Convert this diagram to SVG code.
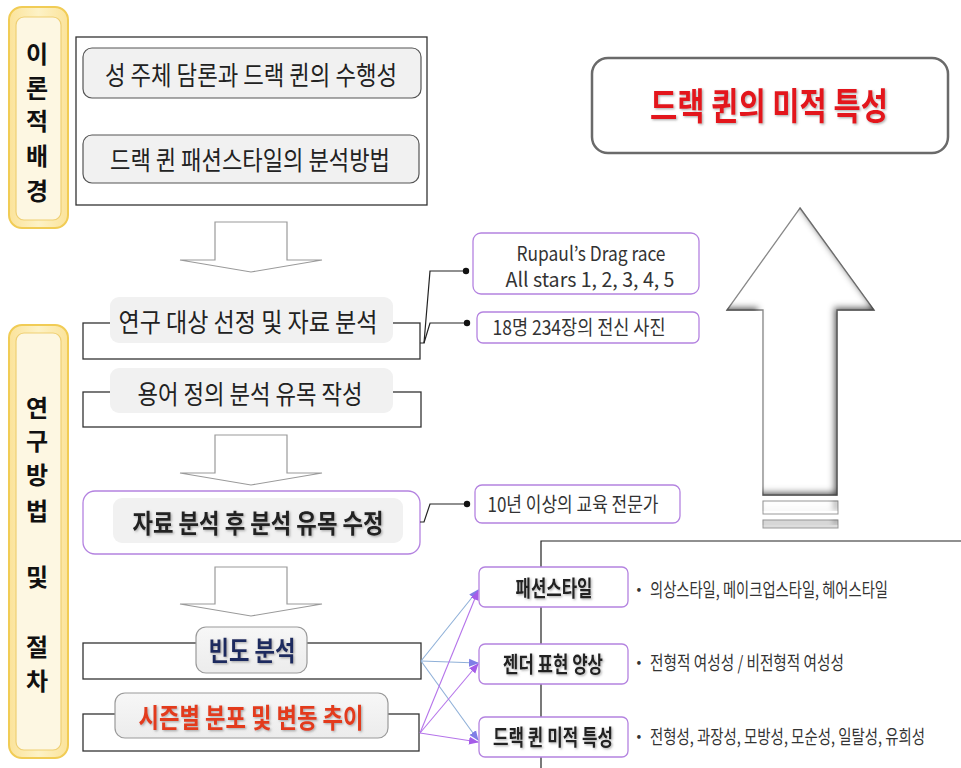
<svg xmlns="http://www.w3.org/2000/svg" width="961" height="768" viewBox="0 0 961 768">
<defs>
<style>
text{font-family:"Noto Sans CJK KR","Noto Sans",sans-serif;text-anchor:middle;dominant-baseline:central;fill:#222}
.lbl{font-size:26px}
.b{font-weight:bold}
.sm{font-size:20px;fill:#333}
.bul{font-size:19px;fill:#333;text-anchor:start}
.dot{font-size:14px;fill:#333}
.vert{font-size:24px;font-weight:bold;fill:#111}
.frame{fill:none;stroke:#333;stroke-width:1.3}
.bracket{fill:#fff;stroke:#333;stroke-width:1.3}
.gray{fill:#f1f1f1}
.grayb{fill:#f1f1f1;stroke:#555;stroke-width:1.2}
.grays{fill:url(#gg);stroke:#9a9a9a;stroke-width:1.2}
.pbox{fill:#fff;stroke:#b483e0;stroke-width:1.3}
.darr{fill:#fff;stroke:#9a9a9a;stroke-width:1.2}
.ylo{fill:url(#yg);stroke:#f1cc55;stroke-width:2}
.yli{fill:#fdf7e2;stroke:#efcf73;stroke-width:1.2}
.conn{fill:none;stroke:#222;stroke-width:1.2}
.blue{fill:none;stroke:#8fb0d8;stroke-width:1.1;marker-end:url(#mb)}
.purp{fill:none;stroke:#b574ea;stroke-width:1.1;marker-end:url(#mp)}
</style>
<linearGradient id="yg" x1="0" y1="0" x2="1" y2="0">
<stop offset="0" stop-color="#fbe39a"/><stop offset="0.5" stop-color="#fdf2c6"/><stop offset="1" stop-color="#fbe39a"/>
</linearGradient>
<linearGradient id="gg" x1="0" y1="0" x2="0" y2="1">
<stop offset="0" stop-color="#f7f7f7"/><stop offset="1" stop-color="#ececec"/>
</linearGradient>
<filter id="ts" x="-10%" y="-20%" width="120%" height="150%">
<feDropShadow dx="1.2" dy="1.2" stdDeviation="0.8" flood-color="#777" flood-opacity="0.6"/>
</filter>
<filter id="inset" x="-5%" y="-5%" width="110%" height="110%">
<feFlood flood-color="#444"/>
<feComposite in2="SourceAlpha" operator="out"/>
<feGaussianBlur stdDeviation="3"/>
<feOffset dx="-4" dy="-4"/>
<feComposite in2="SourceAlpha" operator="in" result="sh"/>
<feMerge><feMergeNode in="SourceGraphic"/><feMergeNode in="sh"/></feMerge>
</filter>
<marker id="mb" markerWidth="10" markerHeight="10" refX="9" refY="5" orient="auto" markerUnits="userSpaceOnUse">
<path d="M0,1 L10,5 L0,9 Z" fill="#7f7ee6"/>
</marker>
<marker id="mp" markerWidth="10" markerHeight="10" refX="9" refY="5" orient="auto" markerUnits="userSpaceOnUse">
<path d="M0,1 L10,5 L0,9 Z" fill="#a55ce8"/>
</marker>
</defs>
<rect width="961" height="768" fill="#fff"/>

<g id="theory-label">
<rect class="ylo" x="9" y="7" width="59" height="221" rx="13"/>
<rect class="yli" x="16" y="17" width="45" height="203" rx="8"/>
<text class="vert" x="37" y="52">이</text>
<text class="vert" x="37" y="86">론</text>
<text class="vert" x="37" y="119">적</text>
<text class="vert" x="37" y="154">배</text>
<text class="vert" x="37" y="189">경</text>
</g>

<g id="method-label">
<rect class="ylo" x="9" y="325" width="59" height="433" rx="13"/>
<rect class="yli" x="16" y="333" width="45" height="417" rx="8"/>
<text class="vert" x="37" y="406">연</text>
<text class="vert" x="37" y="439">구</text>
<text class="vert" x="37" y="473">방</text>
<text class="vert" x="37" y="509">법</text>
<text class="vert" x="37" y="575">및</text>
<text class="vert" x="37" y="645">절</text>
<text class="vert" x="37" y="679">차</text>
</g>

<g id="theory-box">
<rect class="frame" x="76" y="37" width="351" height="168"/>
<rect class="grayb" x="83" y="48" width="338" height="50" rx="9"/>
<text class="lbl" x="251" y="73" textLength="292" lengthAdjust="spacingAndGlyphs">성 주체 담론과 드랙 퀸의 수행성</text>
<rect class="grayb" x="83" y="135" width="336" height="48" rx="9"/>
<text class="lbl" x="250" y="158" textLength="280" lengthAdjust="spacingAndGlyphs">드랙 퀸 패션스타일의 분석방법</text>
</g>

<g id="arrow-down-1"><path class="darr" d="M215 222 H287 V260 H322 L251 272 L180 260 H215 Z"/></g>
<g id="arrow-down-2"><path class="darr" d="M215 435 H287 V473 H322 L251 485 L180 473 H215 Z"/></g>
<g id="arrow-down-3"><path class="darr" d="M215 567 H287 V604 H322 L251 616 L180 604 H215 Z"/></g>

<g id="step-subject">
<rect class="bracket" x="83" y="323" width="337" height="36"/>
<rect class="gray" x="110" y="297" width="283" height="46" rx="9"/>
<text class="lbl" x="248" y="320" textLength="259" lengthAdjust="spacingAndGlyphs">연구 대상 선정 및 자료 분석</text>
</g>

<g id="step-terms">
<rect class="bracket" x="83" y="392" width="338" height="35"/>
<rect class="gray" x="110" y="368" width="283" height="45" rx="9"/>
<text class="lbl" x="250" y="392" textLength="225" lengthAdjust="spacingAndGlyphs">용어 정의 분석 유목 작성</text>
</g>

<g id="step-revise">
<rect class="pbox" x="83" y="491" width="337" height="63" rx="12"/>
<rect class="gray" x="113" y="498" width="290" height="45" rx="9"/>
<text class="lbl b" x="258" y="521" textLength="251" lengthAdjust="spacingAndGlyphs" filter="url(#ts)">자료 분석 후 분석 유목 수정</text>
</g>

<g id="step-frequency">
<rect class="bracket" x="83" y="643" width="338" height="36"/>
<rect class="grays" x="196" y="627" width="111" height="46" rx="10"/>
<text class="b" x="252" y="649" font-size="27" textLength="87" lengthAdjust="spacingAndGlyphs" style="fill:#1e2a5e" filter="url(#ts)">빈도 분석</text>
</g>

<g id="step-season">
<rect class="bracket" x="83" y="714" width="336" height="37"/>
<rect class="grays" x="115" y="693" width="273" height="45" rx="10"/>
<text class="b" x="251" y="716" font-size="27" textLength="225" lengthAdjust="spacingAndGlyphs" style="fill:#e33b1a" filter="url(#ts)">시즌별 분포 및 변동 추이</text>
</g>

<g id="note-rupaul">
<rect class="pbox" x="473" y="233" width="226" height="61" rx="8"/>
<text class="sm" x="591" y="252" textLength="149" lengthAdjust="spacingAndGlyphs">Rupaul’s Drag race</text>
<text class="sm" x="590" y="278" textLength="169" lengthAdjust="spacingAndGlyphs">All stars 1, 2, 3, 4, 5</text>
</g>

<g id="note-photos">
<rect class="pbox" x="477" y="312" width="222" height="31" rx="6"/>
<text class="sm" x="579" y="326" textLength="173" lengthAdjust="spacingAndGlyphs">18명 234장의 전신 사진</text>
</g>

<g id="note-experts">
<rect class="pbox" x="475" y="485" width="205" height="38" rx="7"/>
<text class="sm" x="573" y="503" textLength="171" lengthAdjust="spacingAndGlyphs">10년 이상의 교육 전문가</text>
</g>

<g id="result-axis">
<path class="conn" d="M541 768 V541 H961"/>
</g>

<g id="cat-fashion">
<rect class="pbox" x="479" y="567" width="149" height="40" rx="6"/>
<text class="b" x="554" y="586" font-size="22" textLength="77" lengthAdjust="spacingAndGlyphs" filter="url(#ts)">패션스타일</text>
<text class="dot" x="639" y="588">•</text>
<text class="bul" x="650" y="588" textLength="238" lengthAdjust="spacingAndGlyphs">의상스타일, 메이크업스타일, 헤어스타일</text>
</g>

<g id="cat-gender">
<rect class="pbox" x="479" y="644" width="149" height="40" rx="6"/>
<text class="b" x="553" y="662" font-size="22" textLength="100" lengthAdjust="spacingAndGlyphs" filter="url(#ts)">젠더 표현 양상</text>
<text class="dot" x="639" y="661">•</text>
<text class="bul" x="650" y="661" textLength="194" lengthAdjust="spacingAndGlyphs">전형적 여성성 / 비전형적 여성성</text>
</g>

<g id="cat-aesthetic">
<rect class="pbox" x="479" y="717" width="149" height="40" rx="6"/>
<text class="b" x="553" y="735" font-size="22" textLength="120" lengthAdjust="spacingAndGlyphs" filter="url(#ts)">드랙 퀸 미적 특성</text>
<text class="dot" x="639" y="735">•</text>
<text class="bul" x="650" y="735" textLength="275" lengthAdjust="spacingAndGlyphs">전형성, 과장성, 모방성, 모순성, 일탈성, 유희성</text>
</g>

<g id="big-arrow">
<path d="M800 208 L874 310 H837 V495 H763 V310 H727 Z" fill="#fff" stroke="#8a8a8a" stroke-width="1.3" filter="url(#inset)"/>
<rect x="763" y="501" width="75" height="13" fill="#fff" stroke="#999" stroke-width="1" filter="url(#inset)"/>
<rect x="763" y="520" width="75" height="8" fill="#ddd" stroke="#999" stroke-width="1" filter="url(#inset)"/>
</g>

<g id="title">
<rect x="592" y="58" width="356" height="95" rx="16" fill="#fff" stroke="#6a6a6a" stroke-width="2.5"/>
<text class="b" x="769" y="104" font-size="37" textLength="238" lengthAdjust="spacingAndGlyphs" style="fill:#e3121c" filter="url(#ts)">드랙 퀸의 미적 특성</text>
</g>

<g id="connectors">
<path class="conn" d="M420 343 H424 L430 271 H465"/>
<path class="conn" d="M424 343 L430 323 H466"/>
<circle cx="466" cy="271" r="3.2" fill="#111"/>
<circle cx="467" cy="323" r="3.2" fill="#111"/>
<path class="conn" d="M420 522 H424 L430 504 H466"/>
<circle cx="467" cy="504" r="3.2" fill="#111"/>
<path class="blue" d="M421 661 L478 590"/>
<path class="blue" d="M421 661 L478 663"/>
<path class="blue" d="M421 661 L478 740"/>
<path class="purp" d="M420 733 L478 591"/>
<path class="purp" d="M420 733 L478 664"/>
<path class="purp" d="M420 733 L478 742"/>
</g>
</svg>
